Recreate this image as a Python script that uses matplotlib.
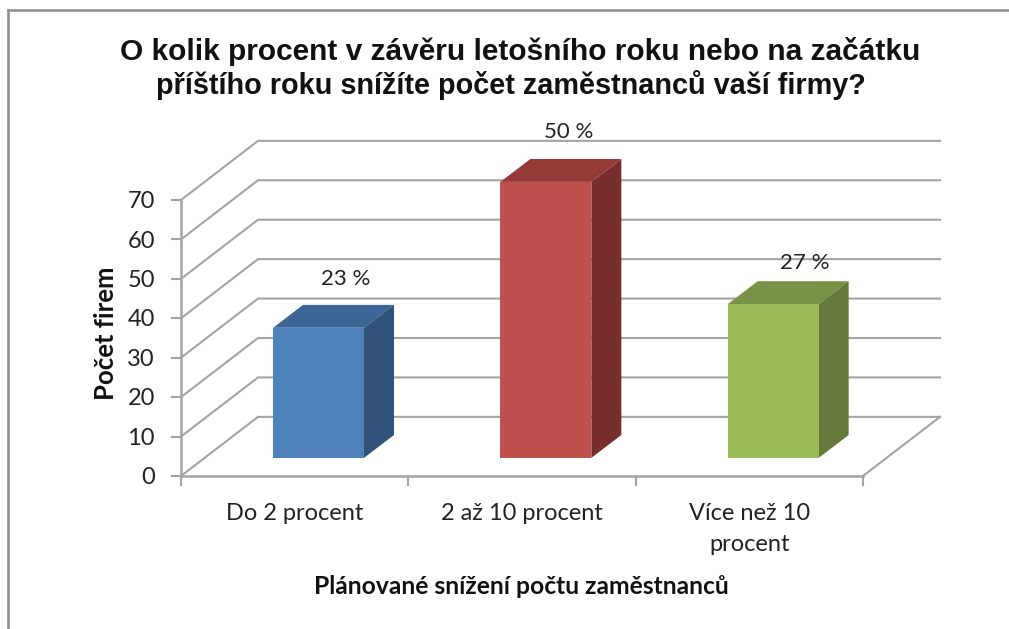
import matplotlib
matplotlib.use('Agg')
import matplotlib.pyplot as plt
from matplotlib.lines import Line2D

categories = ['Do 2 procent', '2 až 10 procent', 'Více než 10\nprocent']
firms = [33, 70, 39]
percent_labels = ['23 %', '50 %', '27 %']
y_ticks = [0, 10, 20, 30, 40, 50, 60, 70]

front_colors = ['#4f81bd', '#c0504d', '#9bbb59']
top_colors = ['#3c6494', '#953a38', '#7a9148']
side_colors = ['#325379', '#772e2c', '#64793a']
label_offsets = [(12, 26), (8, 27), (17, 18)]

W, H = 1009, 629
GRID = '#a3a3a3'

# 3D look: how far the back wall sits from the front edge, in data units
DEPTH_X = 77 / 227.3
DEPTH_Y = 15.0
# bars sit in the middle of the floor
BAR_W = 0.40
BAR_DX = 0.105
BAR_DY = 4.6
BAR_DEPTH_X = 30 / 227.3
BAR_DEPTH_Y = 5.8

plt.rcParams['font.family'] = ['Lato', 'DejaVu Sans']

fig = plt.figure(figsize=(W / 100, H / 100), dpi=100)
ax = fig.add_axes([181 / W, 1 - 476 / H, (863 - 181) / W, (476 - 200) / H])
ax.set_xlim(0, 3)
ax.set_ylim(0, 70)
ax.axis('off')

# outer chart frame, only top and left show in the crop
fig.add_artist(Line2D([8 / W, 8 / W], [0, 1 - 10 / H], color='#8c8c8c', lw=1.8))
fig.add_artist(Line2D([8 / W, 1], [1 - 10 / H, 1 - 10 / H], color='#8c8c8c', lw=1.8))

# gridlines on the side wall and back wall
for v in y_ticks:
    ax.plot([0, DEPTH_X, 3 + DEPTH_X], [v, v + DEPTH_Y, v + DEPTH_Y],
            color=GRID, lw=1.5, clip_on=False, zorder=1, solid_joinstyle='miter')
    ax.plot([-0.04, 0], [v, v], color=GRID, lw=1.5, clip_on=False, zorder=1)
    ax.text(-0.115, v - 0.4, str(v), ha='right', va='center', fontsize=17, color='#222222')

# floor edges and axes
ax.plot([3, 3 + DEPTH_X], [0, DEPTH_Y], color=GRID, lw=1.5, clip_on=False, zorder=1)
ax.plot([0, 3], [0, 0], color=GRID, lw=1.8, clip_on=False, zorder=2)
ax.plot([0, 0], [0, 70], color=GRID, lw=1.8, clip_on=False, zorder=2)
for t in range(4):
    ax.plot([t, t], [0, -2.3], color=GRID, lw=1.5, clip_on=False, zorder=2)

for i, v in enumerate(firms):
    x0 = i + 0.5 - BAR_W / 2 + BAR_DX
    x1 = x0 + BAR_W
    y0 = BAR_DY
    y1 = BAR_DY + v
    ax.bar(x0, v, width=BAR_W, bottom=y0, align='edge', color=front_colors[i],
           clip_on=False, zorder=5)
    ax.fill([x0, x1, x1 + BAR_DEPTH_X, x0 + BAR_DEPTH_X],
            [y1, y1, y1 + BAR_DEPTH_Y, y1 + BAR_DEPTH_Y],
            color=top_colors[i], lw=0, clip_on=False, zorder=4)
    ax.fill([x1, x1 + BAR_DEPTH_X, x1 + BAR_DEPTH_X, x1],
            [y0, y0 + BAR_DEPTH_Y, y1 + BAR_DEPTH_Y, y1],
            color=side_colors[i], lw=0, clip_on=False, zorder=4)
    ax.annotate(percent_labels[i], ((x0 + x1 + BAR_DEPTH_X) / 2, y1 + BAR_DEPTH_Y),
                xytext=(label_offsets[i][0] * 0.72, label_offsets[i][1] * 0.72),
                textcoords='offset points', ha='center', va='center',
                fontsize=16, color='#222222', annotation_clip=False, zorder=6)

for i, c in enumerate(categories):
    ax.text(i + 0.5, -6.9, c, ha='center', va='top', fontsize=17, color='#222222',
            linespacing=1.55)

# two separate lines, the second one runs tighter and off-centre in the original
fig.text(520 / W, 1 - 52 / H, 'O kolik procent v závěru letošního roku nebo na začátku',
         ha='center', va='center', fontsize=21.5, fontweight='bold',
         family=['Liberation Sans', 'DejaVu Sans'], color='#111111')
fig.text(511 / W, 1 - 85 / H, 'příštího roku snížíte počet zaměstnanců vaší firmy?',
         ha='center', va='center', fontsize=20.8, fontweight='bold',
         family=['Liberation Sans', 'DejaVu Sans'], color='#111111')
fig.text(106 / W, 1 - 333 / H, 'Počet firem', rotation=90, ha='center', va='center',
         fontsize=18.5, fontweight='bold', color='#111111')
fig.text(521 / W, 1 - 586 / H, 'Plánované snížení počtu zaměstnanců', ha='center',
         va='center', fontsize=17.7, fontweight='bold', color='#111111')

fig.savefig('out.png', dpi=100)
